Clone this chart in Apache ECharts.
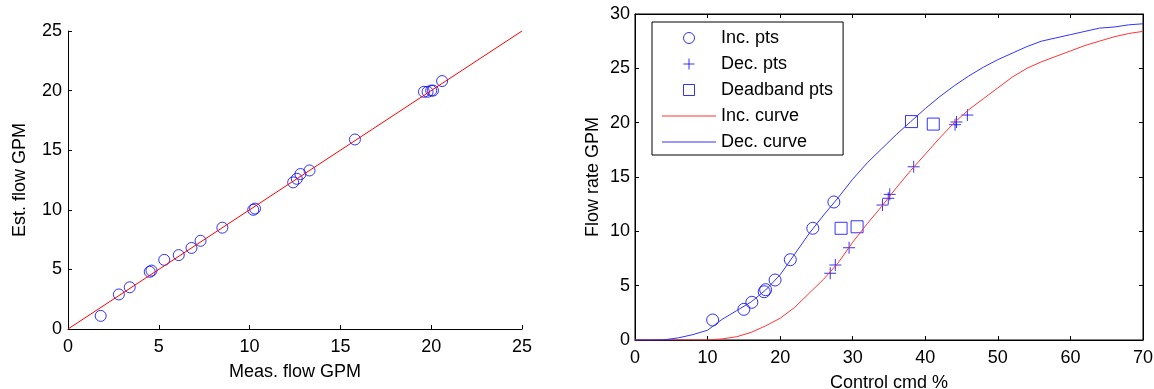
<!DOCTYPE html>
<html>
<head>
<meta charset="utf-8">
<script src="https://cdn.jsdelivr.net/npm/echarts@6/dist/echarts.min.js"></script>
<style>
    html, body {margin: 0; padding: 0; background: #fff;}
    #main {width: 1154px; height: 389px;}
</style>
</head>
<body>
<div id="main"></div>
<script>
// left panel: measured vs estimated flow
var measFlow = [1.8, 2.8, 3.4, 4.5, 4.6, 5.3, 6.1, 6.8, 7.3, 8.5, 10.2, 10.3, 12.4, 12.6, 12.8, 13.3, 15.8, 19.6, 19.8, 20.0, 20.1, 20.6];
var estFlow = [1.1, 2.9, 3.5, 4.8, 4.9, 5.8, 6.2, 6.8, 7.4, 8.5, 10.0, 10.1, 12.3, 12.6, 13.0, 13.3, 15.9, 19.9, 19.9, 20.0, 20.0, 20.8];
var fitX = [0, 25];
var fitY = [0, 25];

// right panel: control command vs flow
var incCmd = [10.7, 15.0, 16.1, 17.8, 18.0, 19.3, 21.4, 24.5, 27.4];
var incFlow = [1.84, 2.82, 3.47, 4.44, 4.63, 5.52, 7.39, 10.28, 12.7];
var decCmd = [26.9, 27.6, 29.5, 34.1, 34.9, 35.1, 38.4, 44.1, 44.3, 45.8];
var decFlow = [6.14, 6.9, 8.49, 12.42, 13.04, 13.4, 15.94, 19.81, 20.06, 20.7];
var dbCmd = [28.4, 30.6, 38.1, 41.1];
var dbFlow = [10.28, 10.42, 20.1, 19.87];

var curveCmd = [0, 2, 4, 6, 8, 10, 12, 14, 16, 18, 20, 22, 24, 26, 28, 30, 32, 34, 36, 38, 40, 42, 44, 46, 48, 50, 52, 54, 56, 58, 60, 62, 64, 66, 68, 70];
var incCurve = [0, 0, 0, 0, 0, 0, 0.1, 0.3, 0.7, 1.3, 2.0, 3.0, 4.3, 5.6, 7.1, 9.0, 10.7, 12.3, 14.0, 15.6, 17.1, 18.6, 20.0, 21.2, 22.2, 23.2, 24.2, 25.0, 25.6, 26.1, 26.6, 27.1, 27.5, 27.9, 28.2, 28.4];
var decCurve = [0, 0, 0.02, 0.2, 0.5, 0.9, 1.9, 2.7, 3.5, 4.6, 6.0, 7.9, 9.8, 11.5, 13.1, 14.8, 16.3, 17.6, 18.9, 20.1, 21.3, 22.4, 23.4, 24.3, 25.1, 25.8, 26.4, 27.0, 27.5, 27.8, 28.1, 28.4, 28.7, 28.8, 29.0, 29.1];

var xTicks1 = [0, 25, 5];
var yTicks1 = [0, 25, 5];
var xTicks2 = [0, 70, 10];
var yTicks2 = [0, 30, 5];

var zip = function (xs, ys) {
    return xs.map(function (x, i) {
        return [x, ys[i]];
    });
};

var font = 'Liberation Sans, Arial, sans-serif';
var black = '#000';
var fs = 18;

var axis = function (grid, pos, ticks, name, gap, labelMargin, showLabel) {
    return {
        type: 'value',
        gridIndex: grid,
        position: pos,
        min: ticks[0],
        max: ticks[1],
        interval: ticks[2],
        name: name,
        nameLocation: 'middle',
        nameGap: gap,
        nameTextStyle: {color: black, fontSize: fs, fontFamily: font},
        axisLine: {show: true, onZero: false, lineStyle: {color: black, width: 1}},
        axisTick: {show: true, inside: true, length: 4, lineStyle: {color: black}},
        axisLabel: {show: showLabel, color: black, fontSize: fs, fontFamily: font, margin: labelMargin},
        splitLine: {show: false}
    };
};

var blueRing = {color: 'rgba(0,0,0,0)', borderColor: '#0000ff', borderWidth: 1};
var squarePath = 'path://M0,0L10,0L10,10L0,10Z';
var plusPath = 'path://M6,0L6,12M0,6L12,6';
var linePath = 'path://M0,0L54,0L54,1L0,1Z';

var myChart = echarts.init(document.getElementById('main'));
var option = {
    backgroundColor: '#fff',
    animation: false,
    textStyle: {fontFamily: font},
    grid: [
        {left: 68, right: 632, top: 31, bottom: 60, outerBoundsMode: 'none'},
        {left: 635, right: 11, top: 14, bottom: 49, outerBoundsMode: 'none', show: true, borderColor: black, borderWidth: 1, backgroundColor: 'transparent'}
    ],
    xAxis: [
        axis(0, 'bottom', xTicks1, 'Meas. flow GPM', 34, 9, true),
        axis(1, 'bottom', xTicks2, 'Control cmd %', 34, 9, true),
        axis(1, 'top', xTicks2, '', 0, 0, false)
    ],
    yAxis: [
        axis(0, 'left', yTicks1, 'Est. flow GPM', 39, 6, true),
        axis(1, 'left', yTicks2, 'Flow rate GPM', 33, 5, true),
        axis(1, 'right', yTicks2, '', 0, 0, false)
    ],
    legend: {
        data: [
            {name: 'Inc. pts', icon: 'circle', itemStyle: blueRing},
            {name: 'Dec. pts', icon: plusPath, itemStyle: blueRing},
            {name: 'Deadband pts', icon: squarePath, itemStyle: blueRing},
            {name: 'Inc. curve', icon: linePath, itemStyle: {color: '#ff3333', borderWidth: 0}},
            {name: 'Dec. curve', icon: linePath, itemStyle: {color: '#3333ff', borderWidth: 0}}
        ],
        orient: 'vertical',
        left: 652,
        top: 22,
        padding: [7, 10, 4, 10],
        itemWidth: 54,
        itemHeight: 11,
        itemGap: 8,
        borderColor: black,
        borderWidth: 1,
        backgroundColor: '#fff',
        textStyle: {color: black, fontSize: fs, fontFamily: font}
    },
    series: [{
        name: 'fit',
        type: 'line',
        xAxisIndex: 0,
        yAxisIndex: 0,
        data: zip(fitX, fitY),
        symbol: 'none',
        lineStyle: {color: '#ff0000', width: 1}
    }, {
        name: 'est',
        type: 'scatter',
        xAxisIndex: 0,
        yAxisIndex: 0,
        data: zip(measFlow, estFlow),
        symbol: 'circle',
        symbolSize: 11,
        itemStyle: blueRing
    }, {
        name: 'Inc. curve',
        type: 'line',
        xAxisIndex: 1,
        yAxisIndex: 1,
        data: zip(curveCmd, incCurve),
        symbol: 'none',
        color: '#ff3333',
        lineStyle: {color: '#ff3333', width: 1}
    }, {
        name: 'Dec. curve',
        type: 'line',
        xAxisIndex: 1,
        yAxisIndex: 1,
        data: zip(curveCmd, decCurve),
        symbol: 'none',
        color: '#3333ff',
        lineStyle: {color: '#3333ff', width: 1}
    }, {
        name: 'Inc. pts',
        type: 'scatter',
        xAxisIndex: 1,
        yAxisIndex: 1,
        data: zip(incCmd, incFlow),
        symbol: 'circle',
        symbolSize: 12,
        itemStyle: blueRing
    }, {
        name: 'Dec. pts',
        type: 'scatter',
        xAxisIndex: 1,
        yAxisIndex: 1,
        data: zip(decCmd, decFlow),
        symbol: plusPath,
        symbolSize: 12,
        symbolKeepAspect: true,
        itemStyle: blueRing
    }, {
        name: 'Deadband pts',
        type: 'scatter',
        xAxisIndex: 1,
        yAxisIndex: 1,
        data: zip(dbCmd, dbFlow),
        symbol: squarePath,
        symbolSize: 12,
        symbolKeepAspect: true,
        itemStyle: blueRing
    }]
};
myChart.setOption(option);
</script>
</body>
</html>
